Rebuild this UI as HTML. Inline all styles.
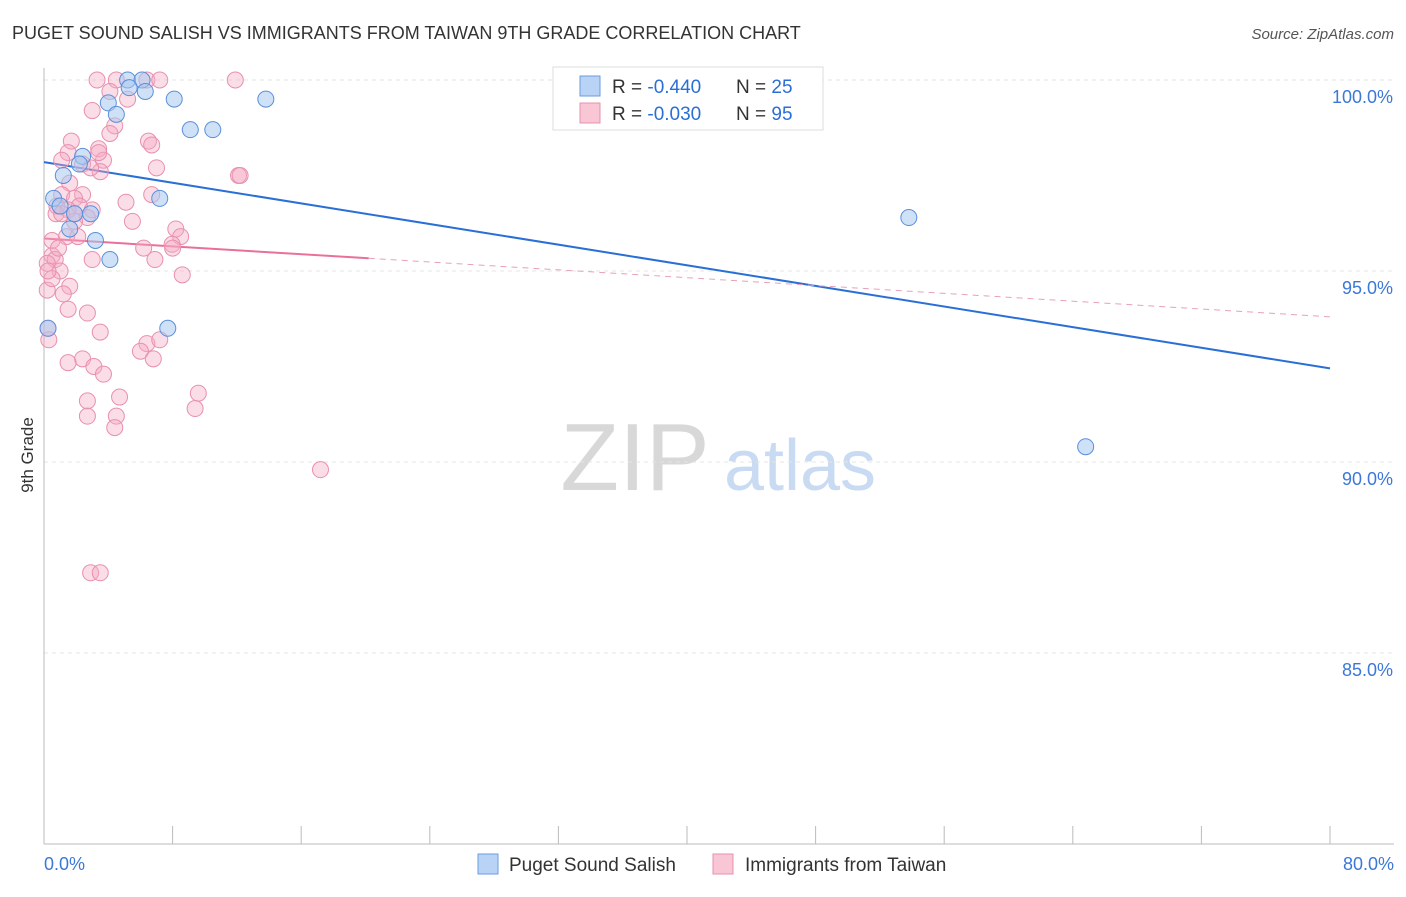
<!DOCTYPE html>
<html><head><meta charset="utf-8"><style>
body{margin:0;background:#fff;font-family:"Liberation Sans",sans-serif;}
svg text{font-family:"Liberation Sans",sans-serif;}
</style></head><body>
<svg id="chart" width="1406" height="892" xmlns="http://www.w3.org/2000/svg">
<text x="12" y="39" font-size="18" fill="#333">PUGET SOUND SALISH VS IMMIGRANTS FROM TAIWAN 9TH GRADE CORRELATION CHART</text>
<text x="1394" y="39" font-size="15" fill="#555" font-style="italic" text-anchor="end">Source: ZipAtlas.com</text>
<text x="33" y="455" font-size="17" fill="#333" transform="rotate(-90 33 455)" text-anchor="middle">9th Grade</text>
<g><text x="635" y="490" font-size="96" fill="#d8d8d8" font-family="Liberation Serif,serif" text-anchor="middle">ZIP</text><text x="800" y="490" font-size="72" fill="#c9dbf2" text-anchor="middle">atlas</text></g>
<g id="grid"></g><g id="axes"></g><g id="lines"></g><g id="pts"></g>
<g>
<rect x="553" y="67" width="270" height="63" fill="#fff" stroke="#ddd"/>
<rect x="580" y="76" width="20" height="20" fill="#b8d3f5" stroke="#6b9ee0"/>
<text x="612" y="93" font-size="19" fill="#333">R = <tspan fill="#2a6fd6">-0.440</tspan></text>
<text x="736" y="93" font-size="19" fill="#333">N = <tspan fill="#2a6fd6">25</tspan></text>
<rect x="580" y="103" width="20" height="20" fill="#f9c6d6" stroke="#e890ad"/>
<text x="612" y="120" font-size="19" fill="#333">R = <tspan fill="#2a6fd6">-0.030</tspan></text>
<text x="736" y="120" font-size="19" fill="#333">N = <tspan fill="#2a6fd6">95</tspan></text>
</g>
<g>
<rect x="478" y="854" width="20" height="20" fill="#b8d3f5" stroke="#6b9ee0"/>
<text x="509" y="871" font-size="19" fill="#333">Puget Sound Salish</text>
<rect x="713" y="854" width="20" height="20" fill="#f9c6d6" stroke="#e890ad"/>
<text x="745" y="871" font-size="19" fill="#333">Immigrants from Taiwan</text>
</g>
</svg>
<script>
const yTicks=[100,95,90,85];
const yTickLabels=["100.0%","95.0%","90.0%","85.0%"];
const xTickLabels=["0.0%","80.0%"];
const blueX=[5.2,6.1,5.3,6.3,8.1,13.8,4.0,4.5,9.1,10.5,2.4,2.2,1.2,0.6,7.2,1.0,2.9,1.6,3.2,4.1,7.7,0.25,53.8,64.8,1.9];
const blueY=[100,100,99.8,99.7,99.5,99.5,99.4,99.1,98.7,98.7,98.0,97.8,97.5,96.9,96.9,96.7,96.5,96.1,95.8,95.3,93.5,93.5,96.4,90.4,96.5];
const pinkX=[3.3,4.5,6.4,7.2,11.9,4.1,5.2,3.0,4.4,4.1,1.7,6.5,6.7,3.4,1.5,1.1,3.7,2.4,7.0,3.5,2.9,12.1,12.2,1.6,2.4,1.1,6.7,5.1,1.9,0.8,2.2,3.0,1.5,0.75,2.7,1.9,5.5,8.2,8.5,1.4,2.1,0.5,6.2,7.97,8.0,0.5,0.7,0.2,3.0,6.9,1.0,8.6,1.6,0.2,1.2,1.5,2.7,0.25,3.5,0.3,6.4,7.2,6.0,6.8,2.4,1.5,3.1,3.7,9.6,4.7,2.7,9.4,2.7,4.5,4.4,17.2,2.9,3.5,3.4,1.1,1.9,0.9,0.5,0.25];
const pinkY=[100,100,100,100,100,99.7,99.5,99.2,98.8,98.6,98.4,98.4,98.3,98.2,98.1,97.9,97.9,97.8,97.7,97.6,97.7,97.5,97.5,97.3,97.0,97.0,97.0,96.8,96.9,96.7,96.7,96.6,96.6,96.5,96.4,96.3,96.3,96.1,95.9,95.9,95.9,95.8,95.6,95.7,95.6,95.4,95.3,95.2,95.3,95.3,95.0,94.9,94.6,94.5,94.4,94.0,93.9,93.5,93.4,93.2,93.1,93.2,92.9,92.7,92.7,92.6,92.5,92.3,91.8,91.7,91.6,91.4,91.2,91.2,90.9,89.8,87.1,87.1,98.1,96.5,96.5,95.6,94.8,95.0];
const blueTrend=[97.85,92.45];
const pinkTrend=[95.85,93.8];
const pinkSolidEnd=20.2;
const NS="http://www.w3.org/2000/svg";
const X0=44,X1=1330,Y100=80,PXPER=38.2;
const sx=v=>X0+(X1-X0)*v/80;
const sy=v=>Y100+(100-v)*PXPER;
function mk(tag,attrs,parent){const e=document.createElementNS(NS,tag);for(const k in attrs)e.setAttribute(k,attrs[k]);document.getElementById(parent).appendChild(e);return e;}
yTicks.forEach((t,i)=>{
 const l=mk('line',{x1:X0,x2:1394,y1:sy(t),y2:sy(t),stroke:'#e4e4e4','stroke-dasharray':'4,4'},'grid');
 
 
 const tx=mk('text',{x:1393,y:sy(t)+23,'font-size':18,fill:'#3b78d8','text-anchor':'end'},'grid');
 tx.textContent=yTickLabels[i];
 
 
});
const ax=mk('line',{x1:X0,x2:X0,y1:68,y2:sy(80),stroke:'#bbb'},'axes');


const bx=mk('line',{x1:X0,x2:1394,y1:sy(80),y2:sy(80),stroke:'#bbb'},'axes');


for(let i=0;i<=10;i++){const t=mk('line',{x1:sx(i*8),x2:sx(i*8),y1:sy(80),y2:sy(80)-18,stroke:'#bbb'},'axes');
 
 }
[[0,'start',X0],[80,'end',1394]].forEach((d,i)=>{const t=mk('text',{x:d[2],y:870,'font-size':18,fill:'#3b78d8','text-anchor':d[1]},'axes');t.textContent=xTickLabels[i];
 
 });
const pv=x=>pinkTrend[0]+(pinkTrend[1]-pinkTrend[0])*x/80;
pinkX.forEach((x,i)=>{const c=mk('circle',{cx:sx(x),cy:sy(pinkY[i]),r:8,fill:'rgba(245,170,196,0.4)',stroke:'#e890ad','stroke-width':1},'pts');
 
 });
blueX.forEach((x,i)=>{const c=mk('circle',{cx:sx(x),cy:sy(blueY[i]),r:8,fill:'rgba(168,200,240,0.55)',stroke:'#5b8fd9','stroke-width':1},'pts');
 
 });
const bl=mk('line',{x1:sx(0),y1:sy(blueTrend[0]),x2:sx(80),y2:sy(blueTrend[1]),stroke:'#2a6fd6','stroke-width':2},'lines');


const pl=mk('line',{x1:sx(0),y1:sy(pv(0)),x2:sx(pinkSolidEnd),y2:sy(pv(pinkSolidEnd)),stroke:'#e8709a','stroke-width':2},'lines');


const pd=mk('line',{x1:sx(pinkSolidEnd),y1:sy(pv(pinkSolidEnd)),x2:sx(80),y2:sy(pv(80)),stroke:'#e8a0ba','stroke-width':1,'stroke-dasharray':'6,5'},'lines');


</script>
</body></html>
